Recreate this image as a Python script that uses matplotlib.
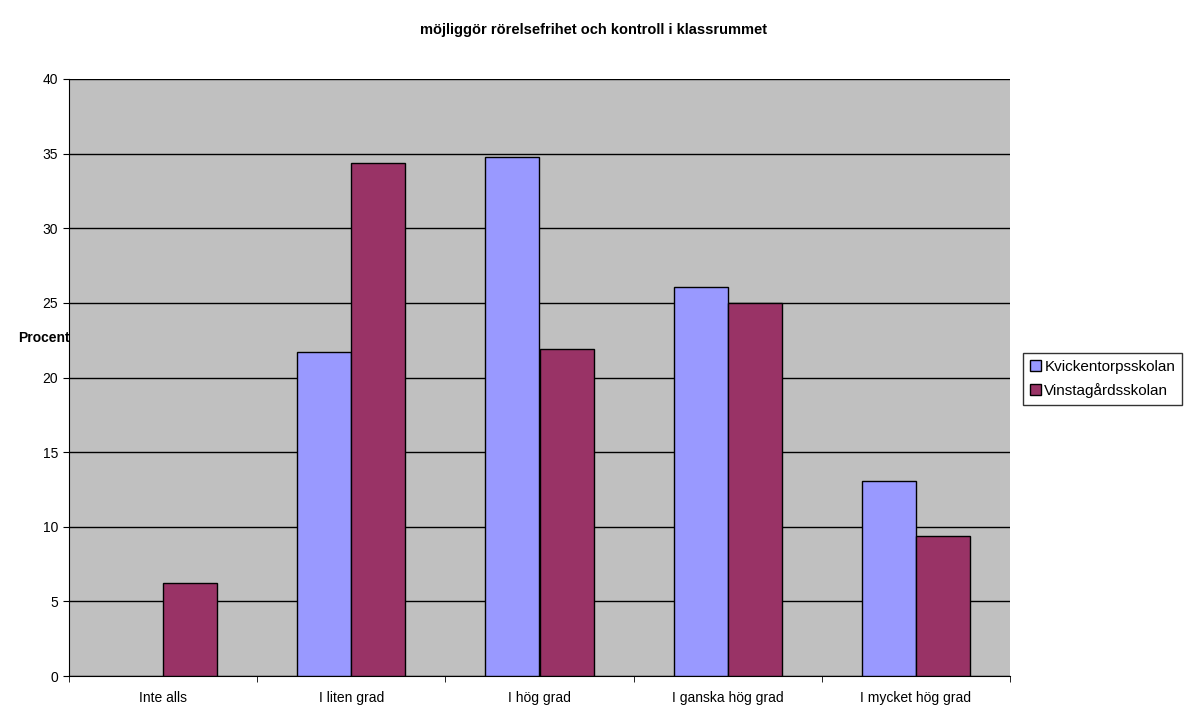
import matplotlib
matplotlib.use("Agg")
import matplotlib.pyplot as plt
from matplotlib.patches import Patch
import numpy as np

categories = ["Inte alls", "I liten grad", "I hög grad", "I ganska hög grad", "I mycket hög grad"]
kvick = [0.0, 21.74, 34.78, 26.09, 13.04]
vinst = [6.25, 34.38, 21.88, 25.0, 9.38]
series_names = ["Kvickentorpsskolan", "Vinstagårdsskolan"]
title = "möjliggör rörelsefrihet och kontroll i klassrummet"
colors = ['#9999FF', '#993366']

plt.rcParams['font.family'] = ['Liberation Sans', 'DejaVu Sans']

fig = plt.figure(figsize=(11.86, 7.06), dpi=100)
ax = fig.add_axes([69/1186, 30/706, (1010-69)/1186, (676-79)/706])
ax.set_facecolor('#C0C0C0')

x = np.arange(len(categories))
w = 0.287
lw_k = [0 if v == 0 else 1 for v in kvick]
lw_v = [0 if v == 0 else 1 for v in vinst]
ax.bar(x - w/2, kvick, width=w, color=colors[0], edgecolor='black', linewidth=lw_k, zorder=3)
ax.bar(x + w/2, vinst, width=w, color=colors[1], edgecolor='black', linewidth=lw_v, zorder=3)

ax.set_xlim(-0.5, len(categories) - 0.5)
ax.set_ylim(0, 40)
ax.set_yticks(np.arange(0, 41, 5))
ax.yaxis.grid(True, color='black', linewidth=1, zorder=1)
ax.tick_params(axis='y', labelsize=10, length=4, direction='out', pad=4)

ax.set_xticks(x)
ax.set_xticklabels(categories, fontsize=10)
ax.tick_params(axis='x', length=0, pad=11)
ax.set_xticks(np.arange(-0.5, len(categories), 1), minor=True)
ax.tick_params(axis='x', which='minor', length=4, direction='out')

for s in ['top', 'right']:
    ax.spines[s].set_visible(False)
ax.spines['left'].set_color('black')
ax.spines['bottom'].set_color('black')

ax.set_ylabel("Procent", rotation=0, fontsize=10, fontweight='bold', ha='right', va='center')
ax.yaxis.set_label_coords(0.001, (676 - 338) / 597)

fig.text(0.5, 1 - 30/706, title, ha='center', va='center', fontsize=10.5, fontweight='bold')

handles = [Patch(facecolor=c, edgecolor='black', linewidth=1) for c in colors]
leg = fig.legend(handles, series_names, loc='upper left', bbox_to_anchor=(1023/1186, 1 - 353/706), fontsize=11,
                 frameon=True, fancybox=False, edgecolor='black', handlelength=0.75,
                 handleheight=0.75, handletextpad=0.2, borderpad=0.45, labelspacing=0.6,
                 borderaxespad=0)
leg.get_frame().set_linewidth(1)

fig.savefig("out.png", dpi=100, facecolor='white')
